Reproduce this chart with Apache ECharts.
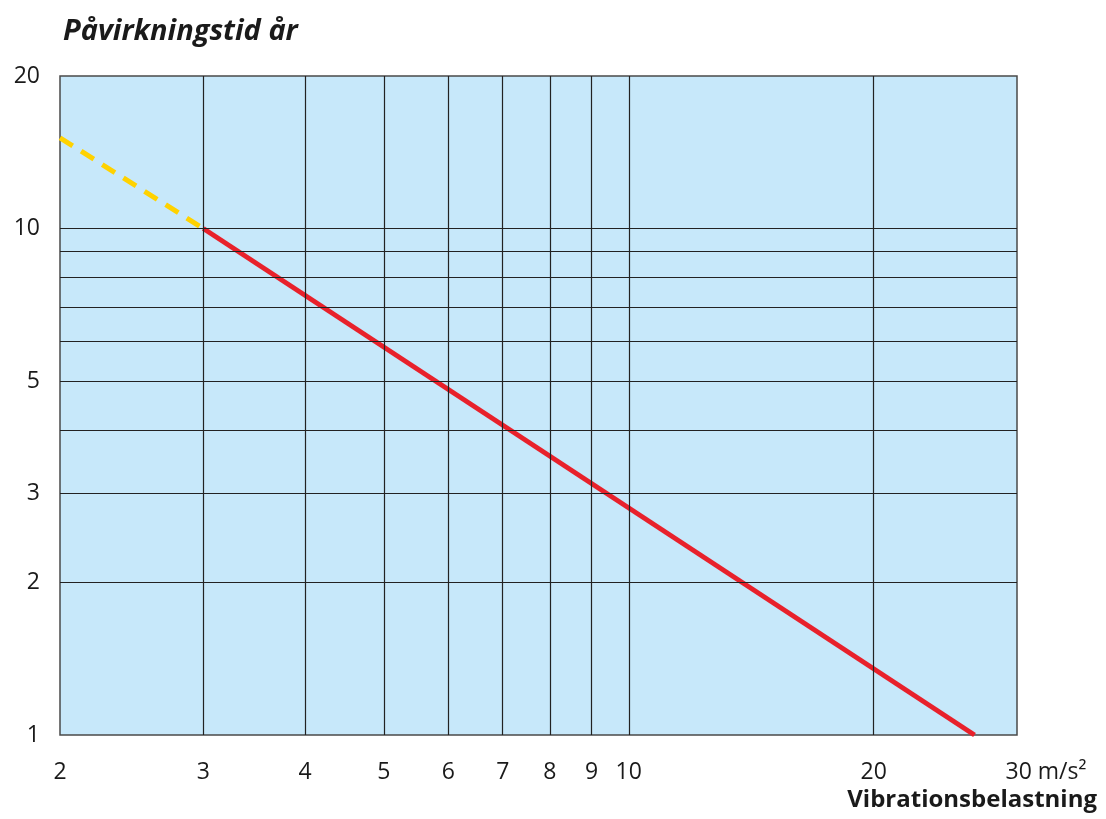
<!DOCTYPE html>
<html>
<head>
<meta charset="utf-8">
<script src="https://cdn.jsdelivr.net/npm/echarts@6/dist/echarts.min.js"></script>
<style>html,body{margin:0;padding:0;background:#fff}#c{width:1106px;height:819px}</style>
</head>
<body>
<div id="c"></div>
<script>
const titleText = 'Påvirkningstid år';
const xAxisTitle = 'Vibrationsbelastning';
const xUnit = ' m/s²';
const xTicks = [2, 3, 4, 5, 6, 7, 8, 9, 10, 20, 30];
const yTicks = [1, 2, 3, 5, 10, 20];
const xGrid = [3, 4, 5, 6, 7, 8, 9, 10, 20];
const yGrid = [2, 3, 4, 5, 6, 7, 8, 9, 10];
const redLine = [[3, 10], [26.6, 1]];
const yellowLine = [[2, 15.1], [3, 10]];

const font = '"Open Sans", "Noto Sans", sans-serif';
const chart = echarts.init(document.getElementById('c'));
chart.setOption({
  animation: false,
  title: [
    { text: titleText, left: 58, top: 12,
      textStyle: { fontFamily: font, fontSize: 29, fontWeight: 'bold', fontStyle: 'italic', color: '#1a1a1a' } },
    { text: xAxisTitle, right: 4, bottom: 2,
      textStyle: { fontFamily: font, fontSize: 24, fontWeight: 'bold', color: '#1a1a1a' } }
  ],
  grid: { left: 60, right: 89, top: 76, bottom: 84, show: true,
    backgroundColor: '#c7e8fa', borderColor: '#4a4a4a', borderWidth: 1.5 },
  xAxis: {
    type: 'log', logBase: 10, min: 2, max: 30,
    axisLine: { show: false }, axisTick: { show: false }, splitLine: { show: false },
    axisLabel: {
      customValues: xTicks, margin: 26, fontFamily: font, fontSize: 23, color: '#1a1a1a',
      formatter: function (v) { return v === 30 ? '{s| }' + v + xUnit : String(v); },
      rich: { s: { width: 58, fontSize: 23 } }
    }
  },
  yAxis: {
    type: 'log', logBase: 10, min: 1, max: 20,
    axisLine: { show: false }, axisTick: { show: false }, splitLine: { show: false },
    axisLabel: { customValues: yTicks, margin: 20, fontFamily: font, fontSize: 23, color: '#1a1a1a' }
  },
  series: [
    { type: 'line', data: [], z: 1, silent: true,
      markLine: { silent: true, symbol: ['none', 'none'], label: { show: false },
        lineStyle: { color: '#222', width: 1.2, type: 'solid' },
        emphasis: { disabled: true },
        data: xGrid.map(v => ({ xAxis: v })).concat(yGrid.map(v => ({ yAxis: v }))) } },
    { type: 'line', data: yellowLine, z: 3, symbol: 'none', silent: true,
      lineStyle: { color: '#ffd200', width: 5, type: [15, 10] } },
    { type: 'line', data: redLine, z: 4, symbol: 'none', silent: true,
      lineStyle: { color: '#e8212b', width: 5 } }
  ]
});
</script>
</body>
</html>
